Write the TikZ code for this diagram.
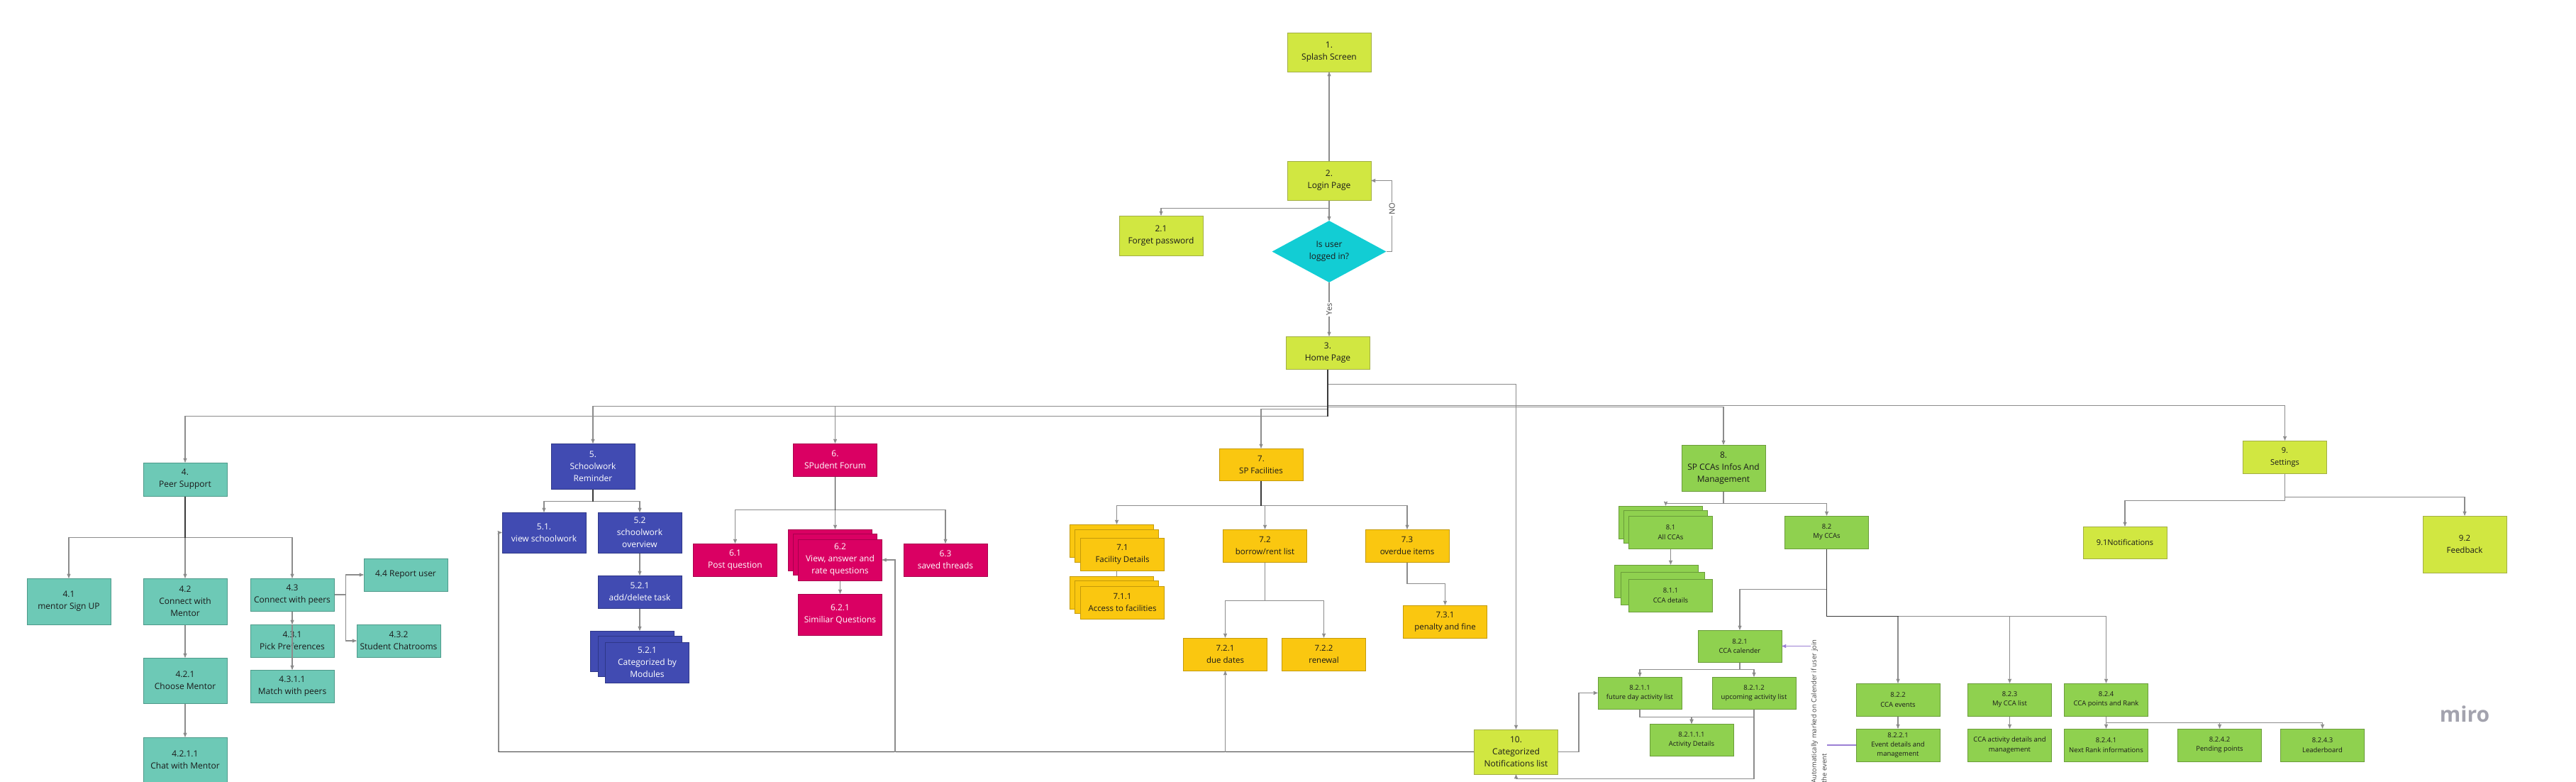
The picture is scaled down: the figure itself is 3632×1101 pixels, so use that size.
\documentclass[tikz,border=0pt]{standalone}
\usepackage{fontspec}
\setmainfont{Open Sans}
\usetikzlibrary{arrows,shapes.geometric}

\definecolor{limefill}{HTML}{D1E741}
\definecolor{limeline}{HTML}{A2AE45}
\definecolor{tealfill}{HTML}{6DC9B6}
\definecolor{tealline}{HTML}{4E9A8A}
\definecolor{bluefill}{HTML}{414BB2}
\definecolor{blueline}{HTML}{2E3788}
\definecolor{pinkfill}{HTML}{DA0063}
\definecolor{pinkline}{HTML}{A8004D}
\definecolor{yellowfill}{HTML}{FAC710}
\definecolor{yellowline}{HTML}{C49A0B}
\definecolor{greenfill}{HTML}{8FD14F}
\definecolor{greenline}{HTML}{6A9C3A}
\definecolor{cyanfill}{HTML}{12CDD4}
\definecolor{linegray}{HTML}{8C8C8C}
\definecolor{linedark}{HTML}{3A3A3A}
\definecolor{textdark}{HTML}{1A1A1A}
\definecolor{labelgray}{HTML}{444444}
\definecolor{notepurple}{HTML}{9B7FD4}
\definecolor{mirogray}{HTML}{A3A3AE}

\begin{document}
\begin{tikzpicture}[x=1pt,y=-1pt,>=stealth',
  conn/.style={->,draw=linegray,line width=1.1pt},
  trunk/.style={draw=linedark,line width=1.6pt},
  note/.style={->,draw=notepurple,line width=1.1pt},
  box/.style={rectangle,draw,line width=1pt,minimum width=118pt,minimum height=46pt,
    inner sep=1pt,align=center,text=textdark,font=\fontsize{12}{17}\selectfont},
  lime node/.style={box,fill=limefill,draw=limeline},
  teal node/.style={box,fill=tealfill,draw=tealline},
  blue node/.style={box,fill=bluefill,draw=blueline,text=white},
  pink node/.style={box,fill=pinkfill,draw=pinkline,text=white},
  yellow node/.style={box,fill=yellowfill,draw=yellowline,font=\fontsize{11.5}{17}\selectfont},
  green node/.style={box,fill=greenfill,draw=greenline,font=\fontsize{9.5}{13.3}\selectfont},
  decision/.style={diamond,aspect=1.85,fill=cyanfill,draw=none,minimum width=161pt,
    minimum height=87pt,inner sep=0pt,align=center,text=textdark,font=\fontsize{12}{17}\selectfont},
  lbl/.style={fill=white,inner sep=1.5pt,rotate=90,text=labelgray,font=\fontsize{11}{13}\selectfont},
  note label/.style={fill=white,inner sep=1pt,rotate=90,align=left,text=labelgray,
    font=\fontsize{9.5}{14.5}\selectfont}]

  \fill[white] (0,0) rectangle (3632,1101);
  \useasboundingbox (0,0) rectangle (3632,1101);

  % login flow
  \node[lime node,minimum height=55pt] (n1) at (1874,73.5) {1.\\Splash Screen};
  \node[lime node,minimum height=55pt] (n2) at (1874,254.5) {2.\\Login Page};
  \node[lime node,minimum height=56pt] (n21) at (1637,332) {2.1\\Forget password};
  \node[decision] (dec) at (1874,354.5) {Is user\\logged in?};
  \node[lime node] (n3) at (1872,497) {3.\\Home Page};

  % peer support
  \node[teal node,minimum height=47pt] (n4) at (261,675.5) {4.\\Peer Support};
  \node[teal node,minimum height=65pt] (n41) at (97,847.5) {4.1\\mentor Sign UP};
  \node[teal node,minimum height=65pt] (n42) at (261,847.5) {4.2\\Connect with\\Mentor};
  \node[teal node] (n43) at (412,838) {4.3\\Connect with peers};
  \node[teal node] (n44) at (572,810) {4.4 Report user};
  \node[teal node] (n431) at (412,903) {4.3.1\\Pick Preferences};
  \node[teal node] (n432) at (562,903) {4.3.2\\Student Chatrooms};
  \node[teal node] (n4311) at (412,967) {4.3.1.1\\Match with peers};
  \node[teal node,minimum height=64pt] (n421) at (261,959) {4.2.1\\Choose Mentor};
  \node[teal node,minimum height=64pt] (n4211) at (261,1071) {4.2.1.1\\Chat with Mentor};

  % schoolwork
  \node[blue node,minimum height=64pt] (n5) at (836,657) {5.\\Schoolwork\\Reminder};
  \node[blue node,minimum height=57pt] (n51) at (767,750.5) {5.1.\\view schoolwork};
  \node[blue node,minimum height=57pt] (n52) at (902,750.5) {5.2\\schoolwork\\overview};
  \node[blue node] (n521) at (902,834) {5.2.1\\add/delete task};
  \node[blue node,minimum height=57pt] (n521b) at (891.5,917.5) {};
  \node[blue node,minimum height=57pt] (n521m) at (902,924.5) {};
  \node[blue node,minimum height=57pt] (n5211) at (912.5,933.5) {5.2.1\\Categorized by\\Modules};

  % forum
  \node[pink node] (n6) at (1177.5,648) {6.\\SPudent Forum};
  \node[pink node] (n61) at (1036.5,789) {6.1\\Post question};
  \node[pink node,minimum height=58pt] (n62b) at (1170.5,775) {};
  \node[pink node,minimum height=58pt] (n62m) at (1177.5,781) {};
  \node[pink node,minimum height=58pt] (n62) at (1184.5,789) {6.2\\View, answer and\\rate questions};
  \node[pink node,minimum height=58pt] (n621) at (1184.5,866) {6.2.1\\Similiar Questions};
  \node[pink node] (n63) at (1333,789) {6.3\\saved threads};

  % facilities
  \node[yellow node,minimum height=45pt] (n7) at (1778,654.5) {7.\\SP Facilities};
  \node[yellow node] (n71b) at (1567.5,762) {};
  \node[yellow node] (n71m) at (1574.5,769) {};
  \node[yellow node] (n71) at (1582.5,781) {7.1\\Facility Details};
  \node[yellow node] (n711b) at (1567.5,835) {};
  \node[yellow node] (n711m) at (1574.5,841) {};
  \node[yellow node] (n711) at (1582.5,849) {7.1.1\\Access to facilities};
  \node[yellow node] (n72) at (1783.5,769) {7.2\\borrow/rent list};
  \node[yellow node] (n73) at (1984,769) {7.3\\overdue items};
  \node[yellow node] (n731) at (2037.5,876) {7.3.1\\penalty and fine};
  \node[yellow node] (n721) at (1727.5,922) {7.2.1\\due dates};
  \node[yellow node] (n722) at (1866.5,922) {7.2.2\\renewal};

  % CCAs
  \node[green node,minimum height=65pt,font=\fontsize{12}{17}\selectfont] (n8) at (2430,659.5) {8.\\SP CCAs Infos And\\Management};
  \node[green node] (n81b) at (2341.5,736) {};
  \node[green node] (n81m) at (2348.5,742) {};
  \node[green node] (n81) at (2355.5,750) {8.1\\All CCAs};
  \node[green node] (n811b) at (2335.5,819) {};
  \node[green node] (n811m) at (2344,829) {};
  \node[green node] (n811) at (2355.5,839) {8.1.1\\CCA details};
  \node[green node] (n82) at (2575.5,750) {8.2\\My CCAs};
  \node[green node,minimum height=45pt] (n821) at (2453,910.5) {8.2.1\\CCA calender};
  \node[green node,minimum height=45pt] (n8211) at (2312,976.5) {8.2.1.1\\future day activity list};
  \node[green node,minimum height=45pt] (n8212) at (2473,976.5) {8.2.1.2\\upcoming activity list};
  \node[green node,minimum height=45pt] (n82111) at (2385,1042.5) {8.2.1.1.1\\Activity Details};
  \node[green node] (n822) at (2676,986) {8.2.2\\CCA events};
  \node[green node] (n8221) at (2676,1050) {8.2.2.1\\Event details and\\management};
  \node[green node] (n823) at (2833.5,986) {8.2.3\\My CCA list};
  \node[green node] (n8231) at (2833.5,1050) {CCA activity details and\\management};
  \node[green node] (n824) at (2969.5,986) {8.2.4\\CCA points and Rank};
  \node[green node] (n8241) at (2969.5,1050) {8.2.4.1\\Next Rank informations};
  \node[green node] (n8242) at (3129.5,1050) {8.2.4.2\\Pending points};
  \node[green node] (n8243) at (3274.5,1050) {8.2.4.3\\Leaderboard};

  % settings and notifications
  \node[lime node,font=\fontsize{11}{17}\selectfont] (n9) at (3221.5,644) {9.\\Settings};
  \node[lime node,minimum height=45pt,font=\fontsize{11}{17}\selectfont] (n91) at (2996,764.5) {9.1Notifications};
  \node[lime node,minimum height=80pt,font=\fontsize{11.5}{17}\selectfont] (n92) at (3475,767) {9.2\\Feedback};
  \node[lime node,minimum height=63pt] (n10) at (2137.5,1059.5) {10.\\Categorized\\Notifications list};

  \node[text=mirogray,font=\bfseries\fontsize{30}{30}\selectfont] (logo) at (3475,1006) {miro};

  % connectors: login flow
  \draw[conn] (n2) -- (n1);
  \draw[conn] (n2) -- (dec);
  \draw[conn] (n2.south) -- ++(0,11) -| (n21.north);
  \draw[conn] (dec.east) -- ++(8,0) |- (n2.east) node[lbl,pos=0.3] {NO};
  \draw[conn] (dec.south) -- (dec.south |- n3.north) node[lbl,midway] {Yes};

  % home page
  \draw[conn] (n3.south) -- ++(0,66) -| (n4.north);
  \draw[conn] (n3.south) -- ++(0,52) -| (n5.north);
  \draw[conn] (n3.south) -- ++(0,52) -| (n6.north);
  \draw[conn] (n3.south) -- ++(0,56) -| (n7.north);
  \draw[conn] (n3.south) -- ++(0,53) -| (n8.north);
  \draw[conn] (n3.south) -- ++(0,51) -| (n9.north);
  \draw[conn] (n3.south) -- ++(0,21) -| (n10.north);
  \draw[trunk] (n3.south) -- ++(0,66);

  % peer support
  \draw[conn] (n4.south) -- ++(0,58) -| (n41.north);
  \draw[conn] (n4.south) -- (n42.north);
  \draw[conn] (n4.south) -- ++(0,58) -| (n43.north);
  \draw[trunk] (n4.south) -- ++(0,58);
  \draw[conn] (n42) -- (n421);
  \draw[conn] (n421) -- (n4211);
  \draw[conn] (n43) -- (n431);
  \draw[conn] (n431.north) -- (n4311.north);
  \draw[conn] (n43.east) -- ++(16,0) |- (n44.west);
  \draw[conn] (n43.east) -- ++(16,0) |- (n432.west);

  % schoolwork
  \draw[conn] (n5.south) -- ++(0,17) -| (n51.north);
  \draw[conn] (n5.south) -- ++(0,17) -| (n52.north);
  \draw[trunk] (n5.south) -- ++(0,17);
  \draw[conn] (n52) -- (n521);
  \draw[conn] (n521.south) -- (n521.south |- n521b.north);

  % forum
  \draw[conn] (n6.south) -- ++(0,47) -| (n61.north);
  \draw[conn] (n6.south) -- ++(0,47) -| (n63.north);
  \draw[conn] (n6.south) -- (n6.south |- n62b.north);
  \draw[trunk] (n6.south) -- ++(0,47);
  \draw[conn] (n62) -- (n621);

  % facilities
  \draw[conn] (n7.south) -- ++(0,35) -| (n71m.north |- n71b.north);
  \draw[conn] (n7.south) -- ++(0,35) -| (n72.north);
  \draw[conn] (n7.south) -- ++(0,35) -| (n73.north);
  \draw[trunk] (n7.south) -- ++(0,35);
  \draw[draw=linegray,line width=1.1pt] (n71m.north |- n71.south) -- (n71m.north |- n711b.north);
  \draw[conn] (n72.south) -- ++(0,54) -| (n721.north);
  \draw[conn] (n72.south) -- ++(0,54) -| (n722.north);
  \draw[conn] (n73.south) -- ++(0,30) -| (n731.north);

  % CCAs
  \draw[conn] (n8.south) -- ++(0,17) -| (n81m.north |- n81b.north);
  \draw[conn] (n8.south) -- ++(0,17) -| (n82.north);
  \draw[conn] (n81.south) -- (n81.south |- n811b.north);
  \draw[conn] (n82.south) -- ++(0,57) -| (n821.north);
  \draw[conn] (n82.south) -- ++(0,95) -| (n822.north);
  \draw[conn] (n82.south) -- ++(0,95) -| (n823.north);
  \draw[conn] (n82.south) -- ++(0,95) -| (n824.north);
  \draw[trunk] (n82.south) -- ++(0,95) -- ++(101,0);
  \draw[conn] (n821.south) -- ++(0,10) -| (n8211.north);
  \draw[conn] (n821.south) -- ++(0,10) -| (n8212.north);
  \draw[conn] (n8211.south) -- ++(0,11) -| (n82111.north);
  \draw[conn] (n8212.south) -- ++(0,11) -| (n82111.north);
  \draw[conn] (n8212.south) -- ++(0,98) -| (n10.south);
  \draw[conn] (n822) -- (n8221);
  \draw[conn] (n823) -- (n8231);
  \draw[conn] (n824.south) -- ++(0,9) -| (n8241.north);
  \draw[conn] (n824.south) -- ++(0,9) -| (n8242.north);
  \draw[conn] (n824.south) -- ++(0,9) -| (n8243.north);
  \draw[note] (n8221.west) -- ++(-52,0) |- (n821.east)
    node[note label,pos=0.17] {Automatically marked on Calender if user join\\the event};

  % notifications
  \coordinate (sw) at (703,1059.5);
  \coordinate (fq) at (1262,1059.5);
  \draw[conn] (n10.west) -- (sw) |- (n51.west);
  \draw[trunk] (n10.west) -- (sw);
  \draw[conn] (n721.south |- n10.west) -- (n721.south);
  \draw[conn] (fq) |- (n62.east);
  \draw[conn] (n10.east) -- ++(29,0) |- (n8211.west);

  % settings
  \draw[conn] (n9.south) -- ++(0,33) -| (n92.north);
  \draw[conn] (n9.south) -- ++(0,38) -| (n91.north);
\end{tikzpicture}
\end{document}
